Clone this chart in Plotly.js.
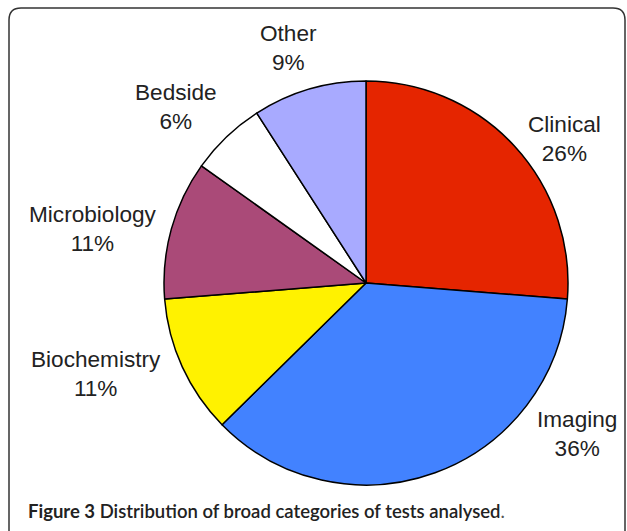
<!DOCTYPE html>
<html><head><meta charset="utf-8">
<script src="https://cdn.plot.ly/plotly-3.0.1.min.js"></script>
<style>html,body{margin:0;padding:0;background:#fff;}#chart{width:627px;height:531px;}</style>
</head><body><div id="chart"></div>
<script>
const categories = ["Clinical", "Imaging", "Biochemistry", "Microbiology", "Bedside", "Other"];
const percents = [26, 36, 11, 11, 6, 9];
const sliceColors = ["#E52500", "#4282FF", "#FFF200", "#AA4A78", "#FFFFFF", "#A8AAFF"];
const caption = "Distribution of broad categories of tests analysed";
const figureLabel = "Figure 3";

const W = 627, H = 531;
const px = x => x / W, py = y => 1 - y / H;
// label centres in pixels (layout only)
const labelPos = [[564, 139], [577, 434], [96, 374], [93, 229], [176, 107], [288, 48]];

const cx = 366, cy = 283, r = 202;

const annotations = categories.map((c, i) => ({
  text: c + "<br>" + percents[i] + "%",
  x: px(labelPos[i][0]), y: py(labelPos[i][1]), xref: "paper", yref: "paper",
  showarrow: false, xanchor: "center", yanchor: "middle",
  font: {family: "Arial", size: 22.6, color: "#222"}
}));
annotations.push({
  text: "<b>" + figureLabel + "</b> " + caption + "<span style='font-weight:400;color:#555'>.</span>",
  x: px(26), y: py(511), xref: "paper", yref: "paper", showarrow: false,
  xanchor: "left", yanchor: "middle",
  font: {family: "Lato", size: 18.5, color: "#222", weight: 600}
});

// rounded border path
const L = 9, T = 8, R = 625, B = 545, rad = 12;
const path = `M ${px(L)},${py(T + rad)} Q ${px(L)},${py(T)} ${px(L + rad)},${py(T)} L ${px(R - rad)},${py(T)} Q ${px(R)},${py(T)} ${px(R)},${py(T + rad)} L ${px(R)},${py(B)} L ${px(L)},${py(B)} Z`;

const data = [{
  type: "pie",
  labels: categories,
  values: percents,
  sort: false,
  direction: "clockwise",
  rotation: 0,
  textinfo: "none",
  hoverinfo: "label+percent",
  marker: {colors: sliceColors, line: {color: "#000", width: 1.5}},
  domain: {x: [px(cx - r), px(cx + r)], y: [py(cy + r), py(cy - r)]},
  showlegend: false
}];

const layout = {
  width: W, height: H,
  margin: {l: 0, r: 0, t: 0, b: 0},
  paper_bgcolor: "#fff",
  showlegend: false,
  annotations: annotations,
  shapes: [{type: "path", path: path, xref: "paper", yref: "paper", line: {color: "#333", width: 1.5}, fillcolor: "rgba(0,0,0,0)"}]
};
Plotly.newPlot("chart", data, layout, {staticPlot: true, displayModeBar: false});
</script></body></html>
